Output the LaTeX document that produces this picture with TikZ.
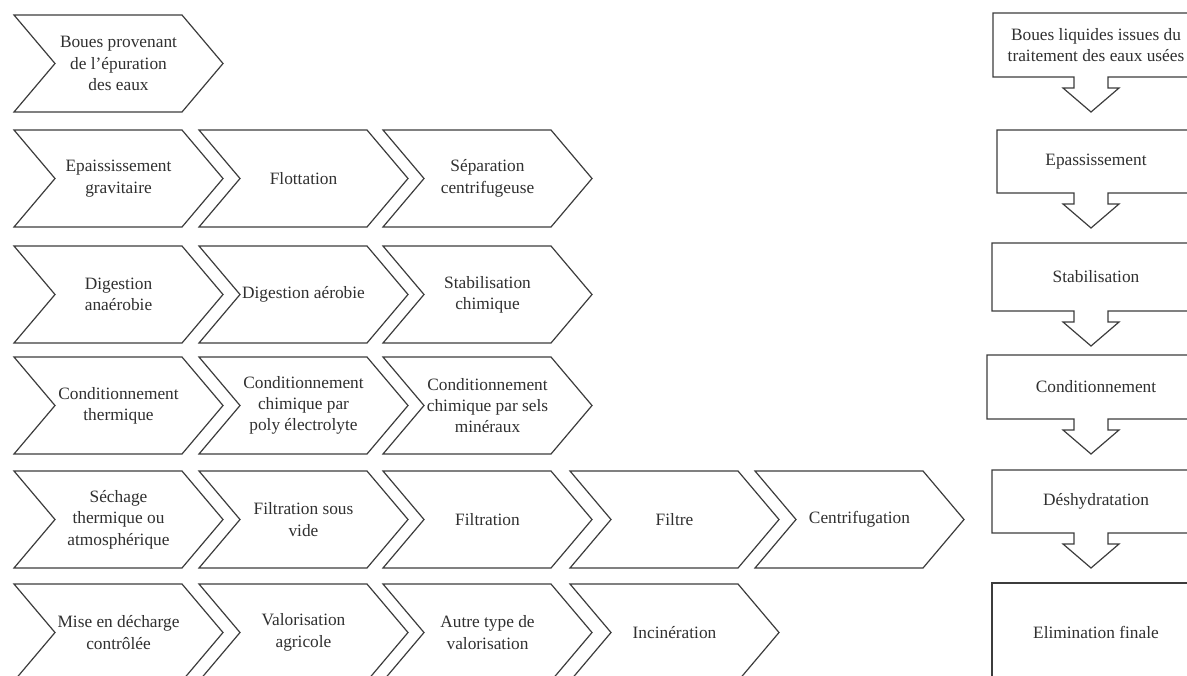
\documentclass[tikz,border=0pt]{standalone}
\usepackage{fontspec}
\setmainfont{Liberation Serif}
\usetikzlibrary{calc}
\definecolor{linec}{HTML}{3C3C3C}
\definecolor{textc}{HTML}{303030}
\tikzset{
  chev/.style={draw=linec, line width=0.9pt, line join=miter, fill=white},
  lbl/.style={align=center, inner sep=0pt, text=textc, font=\fontsize{13}{16}\selectfont},
  rbox/.style={draw=linec, line width=0.9pt, line join=miter, fill=white},
}
% #1 name, #2 left x, #3 top y, #4 text
\newcommand\mychev[4]{%
  \draw[chev] (#2,#3) -- ++(168,0) -- ++(41,48.5) -- ++(-41,48.5) -- ++(-168,0) -- ++(41,-48.5) -- cycle;
  \node[lbl] (#1) at (#2+104.5,#3+48.5) {#4};}
% #1 name, #2 left x, #3 top y, #4 bottom y, #5 text
\newcommand\myrbox[5]{%
  \draw[rbox] (#2,#3) -- (1200,#3) -- (1200,#4) -- (1108,#4) -- (1108,#4+11) -- (1119,#4+11)
     -- (1091,#4+35) -- (1063,#4+11) -- (1074,#4+11) -- (1074,#4) -- (#2,#4) -- cycle;
  \node[lbl] (#1) at (1096,{(#3+#4)/2}) {#5};}
\newcommand\myrlast[5]{%
  \draw[rbox] (#2,#3) rectangle (1200,#4+20);
  \node[lbl] (#1) at (1096,{(#3+#4)/2}) {#5};}
\begin{document}
\begin{tikzpicture}[x=0.75pt,y=-0.75pt]
\useasboundingbox (0,0) rectangle (1187,675);
\clip (0,0) rectangle (1187,675);
\fill[white] (0,0) rectangle (1187,675);
% row 1
\mychev{a1}{14}{15}{Boues provenant\\de l’épuration\\des eaux}
% row 2
\mychev{b1}{14}{130}{Epaississement\\gravitaire}
\mychev{b2}{199}{130}{Flottation}
\mychev{b3}{383}{130}{Séparation\\centrifugeuse}
% row 3
\mychev{c1}{14}{246}{Digestion\\anaérobie}
\mychev{c2}{199}{246}{Digestion aérobie}
\mychev{c3}{383}{246}{Stabilisation\\chimique}
% row 4
\mychev{d1}{14}{357}{Conditionnement\\thermique}
\mychev{d2}{199}{357}{Conditionnement\\chimique par\\poly électrolyte}
\mychev{d3}{383}{357}{Conditionnement\\chimique par sels\\minéraux}
% row 5
\mychev{e1}{14}{471}{Séchage\\thermique ou\\atmosphérique}
\mychev{e2}{199}{471}{Filtration sous\\vide}
\mychev{e3}{383}{471}{Filtration}
\mychev{e4}{570}{471}{Filtre}
\mychev{e5}{755}{471}{Centrifugation}
% row 6
\mychev{f1}{14}{584}{Mise en décharge\\contrôlée}
\mychev{f2}{199}{584}{Valorisation\\agricole}
\mychev{f3}{383}{584}{Autre type de\\valorisation}
\mychev{f4}{570}{584}{Incinération}
% right column
\myrbox{r1}{993}{13}{77}{Boues liquides issues du\\traitement des eaux usées}
\myrbox{r2}{997}{130}{193}{Epassissement}
\myrbox{r3}{992}{243}{311}{Stabilisation}
\myrbox{r4}{987}{355}{419}{Conditionnement}
\myrbox{r5}{992}{470}{533}{Déshydratation}
\myrlast{r6}{992}{583}{681}{Elimination finale}
\end{tikzpicture}
\end{document}
